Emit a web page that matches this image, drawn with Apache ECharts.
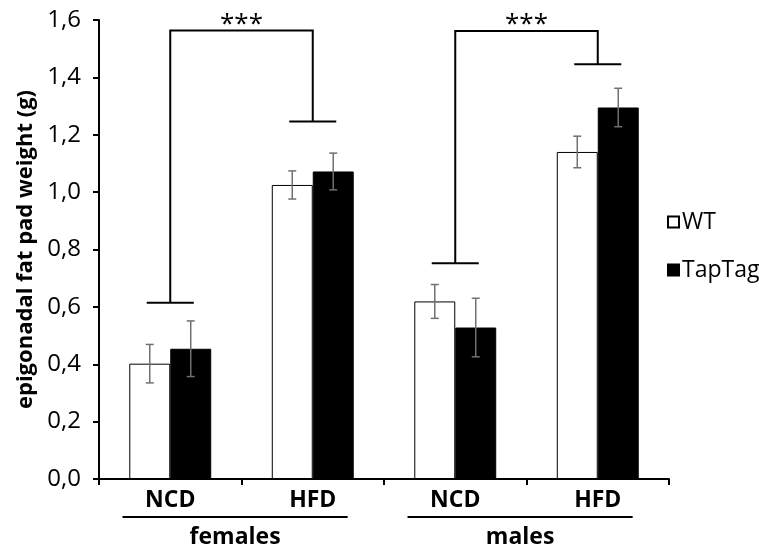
<!DOCTYPE html>
<html>
<head>
<meta charset="utf-8">
<script src="https://cdn.jsdelivr.net/npm/echarts@6/dist/echarts.min.js"></script>
<style>html,body{margin:0;padding:0;background:#fff}#chart{width:759px;height:549px}</style>
</head>
<body>
<div id="chart"></div>
<script>
const categories = ['NCD', 'HFD', 'NCD', 'HFD'];
const groupNames = ['females', 'males'];
const groupSpans = [[0, 1], [2, 3]];
const seriesNames = ['WT', 'TapTag'];
const wtValues = [0.402, 1.025, 0.619, 1.140];
const wtErrors = [0.067, 0.049, 0.059, 0.055];
const tapValues = [0.454, 1.072, 0.528, 1.295];
const tapErrors = [0.097, 0.064, 0.102, 0.067];
const yMin = 0, yMax = 1.6, yStep = 0.2;
// bracket: [leftCategory, rightCategory, topValue, leftFootValue, rightFootValue]
const brackets = [[0, 1, 1.563, 0.614, 1.246], [2, 3, 1.562, 0.752, 1.446]];
const sigLabels = ['***', '***'];
const yTitle = 'epigonadal fat pad weight (g)';

const FONT = '"Open Sans", "Noto Sans", sans-serif';
const BAR_FRAC = 0.2875; // each bar's share of category width

const chart = echarts.init(document.getElementById('chart'), null, {renderer: 'canvas'});

function errorSeries(values, errors, side) {
  return {
    type: 'custom',
    silent: true,
    z: 5,
    data: values.map((v, i) => [i, v, errors[i]]),
    renderItem: function (params, api) {
      const cw = api.size([1, 0])[0];
      const c = api.coord([api.value(0), api.value(1)]);
      const x = c[0] + side * cw * BAR_FRAC / 2;
      const hi = api.coord([api.value(0), api.value(1) + api.value(2)])[1];
      const lo = api.coord([api.value(0), api.value(1) - api.value(2)])[1];
      const cap = 4;
      const st = {stroke: '#707070', lineWidth: 1.5};
      return {type: 'group', children: [
        {type: 'line', shape: {x1: x, y1: hi, x2: x, y2: lo}, style: st},
        {type: 'line', shape: {x1: x - cap, y1: hi, x2: x + cap, y2: hi}, style: st},
        {type: 'line', shape: {x1: x - cap, y1: lo, x2: x + cap, y2: lo}, style: st}
      ]};
    }
  };
}

const option = {
  animation: false,
  backgroundColor: '#fff',
  grid: {left: 99, right: 90, top: 20, bottom: 70, containLabel: false},
  legend: {
    data: seriesNames,
    orient: 'vertical',
    left: 662,
    top: 203,
    icon: 'rect',
    itemWidth: 11,
    itemHeight: 11,
    itemGap: 20,
    textStyle: {fontFamily: FONT, fontSize: 23, color: '#000', padding: [0, 0, 0, -2], lineHeight: 28},
    selectedMode: false
  },
  xAxis: {
    type: 'category',
    data: categories,
    axisLine: {lineStyle: {color: '#000', width: 2}},
    axisTick: {show: true, length: 6, lineStyle: {color: '#000', width: 2}, interval: 0},
    axisLabel: {fontFamily: FONT, fontSize: 23, fontWeight: 'bold', color: '#000', margin: 10, interval: 0},
    splitLine: {show: false}
  },
  yAxis: {
    type: 'value',
    min: yMin, max: yMax, interval: yStep,
    name: yTitle,
    nameLocation: 'middle',
    nameGap: 61,
    nameTextStyle: {fontFamily: FONT, fontSize: 22, fontWeight: 'bold', color: '#000'},
    axisLine: {show: true, lineStyle: {color: '#000', width: 2}},
    axisTick: {show: true, length: 6, lineStyle: {color: '#000', width: 2}},
    axisLabel: {fontFamily: FONT, fontSize: 24, color: '#000', margin: 18,
      formatter: v => v.toFixed(1).replace('.', ',')},
    splitLine: {show: false}
  },
  series: [
    {
      name: 'WT', type: 'bar', data: wtValues,
      barGap: '0%', barCategoryGap: '42.5%',
      itemStyle: {color: '#fff', borderColor: '#000', borderWidth: 1}
    },
    {
      name: 'TapTag', type: 'bar', data: tapValues,
      barGap: '0%', barCategoryGap: '42.5%',
      itemStyle: {color: '#000', borderColor: '#000', borderWidth: 1}
    },
    errorSeries(wtValues, wtErrors, -1),
    errorSeries(tapValues, tapErrors, 1),
    {
      type: 'custom', silent: true, z: 6,
      data: brackets,
      renderItem: function (params, api) {
        const cw = api.size([1, 0])[0];
        const l = api.value(0), r = api.value(1);
        const top = api.coord([l, api.value(2)]);
        const lf = api.coord([l, api.value(3)]);
        const rt = api.coord([r, api.value(2)]);
        const rf = api.coord([r, api.value(4)]);
        const half = cw * 0.165;
        const st = {stroke: '#000', lineWidth: 2, fill: null};
        return {type: 'group', children: [
          {type: 'polyline', shape: {points: [[lf[0], lf[1]], [top[0], top[1]], [rt[0], rt[1]], [rf[0], rf[1]]]}, style: st},
          {type: 'line', shape: {x1: lf[0] - half, y1: lf[1], x2: lf[0] + half, y2: lf[1]}, style: st},
          {type: 'line', shape: {x1: rf[0] - half, y1: rf[1], x2: rf[0] + half, y2: rf[1]}, style: st},
          {type: 'text', x: (top[0] + rt[0]) / 2, y: top[1] + 7,
            style: {text: sigLabels[params.dataIndex], fontFamily: FONT, fontSize: 26, fill: '#000',
              align: 'center', verticalAlign: 'bottom'}}
        ]};
      }
    },
    {
      type: 'custom', silent: true, z: 6,
      data: groupSpans,
      renderItem: function (params, api) {
        const cw = api.size([1, 0])[0];
        const p0 = api.coord([api.value(0), 0]);
        const p1 = api.coord([api.value(1), 0]);
        const x0 = p0[0] - 0.335 * cw, x1 = p1[0] + 0.245 * cw;
        const y = p0[1] + 38;
        return {type: 'group', children: [
          {type: 'line', shape: {x1: x0, y1: y, x2: x1, y2: y}, style: {stroke: '#000', lineWidth: 2}},
          {type: 'text', x: (x0 + x1) / 2, y: y + 20,
            style: {text: groupNames[params.dataIndex], fontFamily: FONT, fontSize: 23, fontWeight: 'bold',
              fill: '#000', align: 'center', verticalAlign: 'middle'}}
        ]};
      }
    }
  ]
};
chart.setOption(option);
</script>
</body>
</html>
